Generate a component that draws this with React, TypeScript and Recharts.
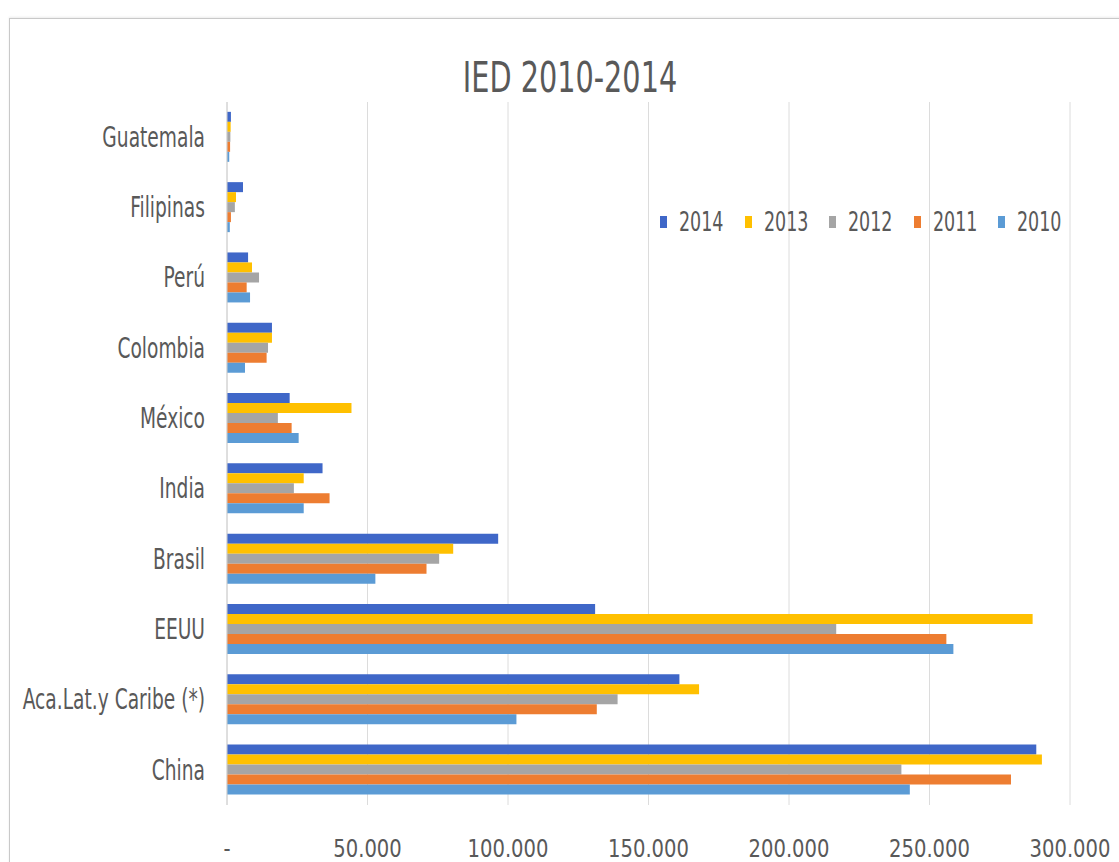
import React from 'react'
import { Bar, BarChart, CartesianGrid, Legend, XAxis, YAxis } from 'recharts'

const categories = ['Guatemala', 'Filipinas', 'Perú', 'Colombia', 'México', 'India', 'Brasil', 'EEUU', 'Aca.Lat.y Caribe (*)', 'China']
const years = ['2014', '2013', '2012', '2011', '2010']
const v2014 = [1400, 5700, 7500, 16000, 22300, 34000, 96500, 131000, 161000, 288000]
const v2013 = [1300, 3200, 8900, 16000, 44300, 27300, 80500, 286700, 168000, 290000]
const v2012 = [1200, 2800, 11400, 14600, 18100, 23800, 75500, 216800, 139000, 240000]
const v2011 = [1100, 1400, 7000, 14100, 23000, 36500, 71000, 256000, 131600, 279000]
const v2010 = [800, 1000, 8200, 6400, 25500, 27300, 52800, 258500, 103000, 243000]
const xTicks = [0, 50000, 100000, 150000, 200000, 250000, 300000]

const colors: Record<string, string> = {
  '2014': '#3F67C8',
  '2013': '#FFC000',
  '2012': '#A5A5A5',
  '2011': '#ED7D31',
  '2010': '#5B9BD5',
}

const series: Record<string, number[]> = { '2014': v2014, '2013': v2013, '2012': v2012, '2011': v2011, '2010': v2010 }

const data = categories.map((name, i) => {
  const row: Record<string, string | number> = { name }
  for (const y of years) row[y] = series[y][i]
  return row
})

// no narrow font installed, so squeeze the condensed one sideways like the source
const FONT = "'DejaVu Sans Condensed', 'DejaVu Sans', sans-serif"
const TEXT = '#595959'

function fmt(v: number) {
  if (v === 0) return '-'
  return String(v).replace(/\B(?=(\d{3})+(?!\d))/g, '.')
}

function XTick({ x, y, payload }: { x?: number; y?: number; payload?: { value: number } }) {
  const v = payload?.value ?? 0
  return (
    <g transform={`translate(${x ?? 0},${(y ?? 0) + 41}) scale(0.87,1)`}>
      <text x={0} y={0} textAnchor="middle" dominantBaseline="central"
        fill={TEXT} fontSize={25} fontFamily={FONT}>
        {fmt(v)}
      </text>
    </g>
  )
}

function YTick({ x, y, payload }: { x?: number; y?: number; payload?: { value: string } }) {
  return (
    <g transform={`translate(${(x ?? 0) - 20},${y ?? 0}) scale(0.74,1)`}>
      <text x={0} y={0} textAnchor="end" dominantBaseline="central"
        fill={TEXT} fontSize={28} fontFamily={FONT}>
        {payload?.value}
      </text>
    </g>
  )
}

function LegendBox() {
  return (
    <div style={{ position: 'relative', width: 440, height: 32, fontFamily: FONT, fontSize: 27, color: TEXT }}>
      {years.map((y, i) => (
        <div key={y} style={{ position: 'absolute', left: i * 84.5, top: 0, height: 32, display: 'flex', alignItems: 'center' }}>
          <span style={{ display: 'inline-block', width: 7, height: 12, background: colors[y] }} />
          <span style={{ display: 'inline-block', marginLeft: 12, transform: 'scaleX(0.72)', transformOrigin: 'left center', lineHeight: '32px' }}>{y}</span>
        </div>
      ))}
    </div>
  )
}

export default function App() {
  return (
    <div style={{ position: 'absolute', left: 0, top: 0, width: 1119, height: 862, background: '#fff', overflow: 'hidden' }}>
      <div style={{
        position: 'absolute', left: 9, top: 18, width: 1120, height: 850,
        borderTop: '1px solid #c9c9c9', borderLeft: '1px solid #c9c9c9',
        boxShadow: '0 -1px 2px rgba(0,0,0,0.08)',
      }} />
      <div style={{
        position: 'absolute', left: 370, width: 400, top: 54, textAlign: 'center',
        fontFamily: FONT, fontSize: 42, color: TEXT, lineHeight: '48px',
        transform: 'scaleX(0.76)', transformOrigin: '200px 50%',
      }}>
        IED 2010-2014
      </div>
      <div style={{ position: 'absolute', left: 0, top: 0 }}>
        <BarChart
          width={1119}
          height={862}
          data={data}
          layout="vertical"
          margin={{ top: 102, right: 49, bottom: 12, left: 0 }}
          barCategoryGap="14%"
          barGap={0}
        >
          <CartesianGrid horizontal={false} stroke="#dcdcdc" />
          <XAxis
            type="number"
            domain={[0, 300000]}
            ticks={xTicks}
            axisLine={false}
            tickLine={false}
            tickSize={0}
            height={45}
            tick={<XTick />}
            interval={0}
          />
          <YAxis
            type="category"
            dataKey="name"
            width={227}
            axisLine={{ stroke: '#d0d0d0' }}
            tickLine={false}
            tickSize={0}
            tick={<YTick />}
            interval={0}
          />
          <Legend
            layout="horizontal"
            verticalAlign="middle"
            align="center"
            content={<LegendBox />}
            wrapperStyle={{ position: 'absolute', left: 660, top: 206, width: 440, height: 32 }}
          />
          {years.map(y => (
            <Bar key={y} dataKey={y} fill={colors[y]} isAnimationActive={false} />
          ))}
        </BarChart>
      </div>
    </div>
  )
}
